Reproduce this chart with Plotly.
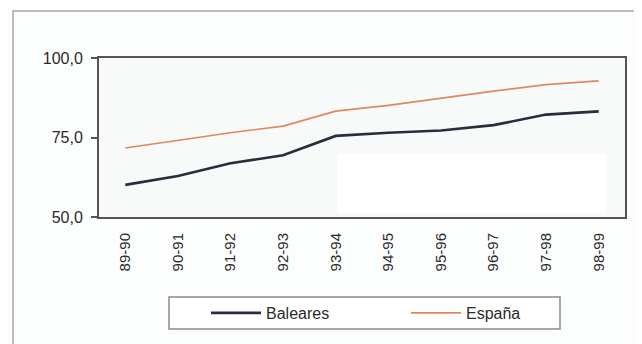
import plotly.graph_objects as go

categories = ["89-90", "90-91", "91-92", "92-93", "93-94", "94-95", "95-96", "96-97", "97-98", "98-99"]
baleares = [60.1, 62.9, 66.9, 69.4, 75.5, 76.5, 77.2, 78.9, 82.2, 83.2]
espana = [71.7, 74.2, 76.5, 78.6, 83.3, 85.1, 87.4, 89.6, 91.6, 92.8]
y_ticks = [50, 75, 100]

fig = go.Figure()
fig.add_trace(go.Scatter(x=categories, y=baleares, name="Baleares", mode="lines",
                         line=dict(color="#2b2b3c", width=2.6)))
fig.add_trace(go.Scatter(x=categories, y=espana, name="España", mode="lines",
                         line=dict(color="#e0875f", width=1.7)))

OFF = 8  # page body margin
W, H = 642 - OFF, 344 - OFF
L, T = 99 - OFF, 58 - OFF
R = W - (625 - OFF)
B = H - (217 - OFF)
pw, ph = W - L - R, H - T - B

def px(x):  # page x -> paper
    return (x - OFF - L) / pw

def py(y):  # page y -> paper
    return (H - B - (y - OFF)) / ph

fig.update_layout(
    width=W, height=H,
    margin=dict(l=L, r=R, t=T, b=B),
    paper_bgcolor="#fcfdfd",
    plot_bgcolor="#f8fafa",
    separators=",.",
    font=dict(family="Liberation Sans, Arial, sans-serif", size=15, color="#2a2a2a"),
    showlegend=True,
    legend=dict(orientation="h", x=px(206), xanchor="left", y=py(313), yanchor="middle",
                borderwidth=0, bgcolor="rgba(0,0,0,0)",
                font=dict(size=16, color="#2a2a2a"), entrywidth=135, entrywidthmode="pixels",
                itemwidth=50),
    shapes=[
        dict(type="rect", xref="paper", yref="paper", x0=px(13), x1=px(700), y0=py(11), y1=py(400),
             line=dict(color="#a8a8a8", width=1.5), fillcolor="rgba(0,0,0,0)", layer="below"),
        dict(type="rect", xref="paper", yref="paper", x0=px(337), x1=px(606), y0=py(154), y1=py(213),
             line=dict(width=0), fillcolor="#ffffff", layer="below"),
        dict(type="rect", xref="paper", yref="paper", x0=px(169), x1=px(560), y0=py(297), y1=py(329),
             line=dict(color="#8a8a8a", width=1.5), fillcolor="#ffffff", layer="below"),
    ],
)
fig.update_xaxes(type="category", range=[-0.5, 9.5], tickangle=-90, showgrid=False,
                 showline=True, mirror=True, linecolor="#555", linewidth=2, ticks="",
                 ticklabelstandoff=8, tickfont=dict(size=15, color="#2a2a2a"))
fig.update_yaxes(range=[50, 100], tickvals=y_ticks, tickformat=".1f", showgrid=False,
                 showline=True, mirror=True, linecolor="#555", linewidth=2,
                 ticks="outside", ticklen=6, tickcolor="#555", tickwidth=1.5,
                 ticklabelstandoff=5, tickfont=dict(size=16, color="#2a2a2a"), zeroline=False)

fig.write_html("out.html")
